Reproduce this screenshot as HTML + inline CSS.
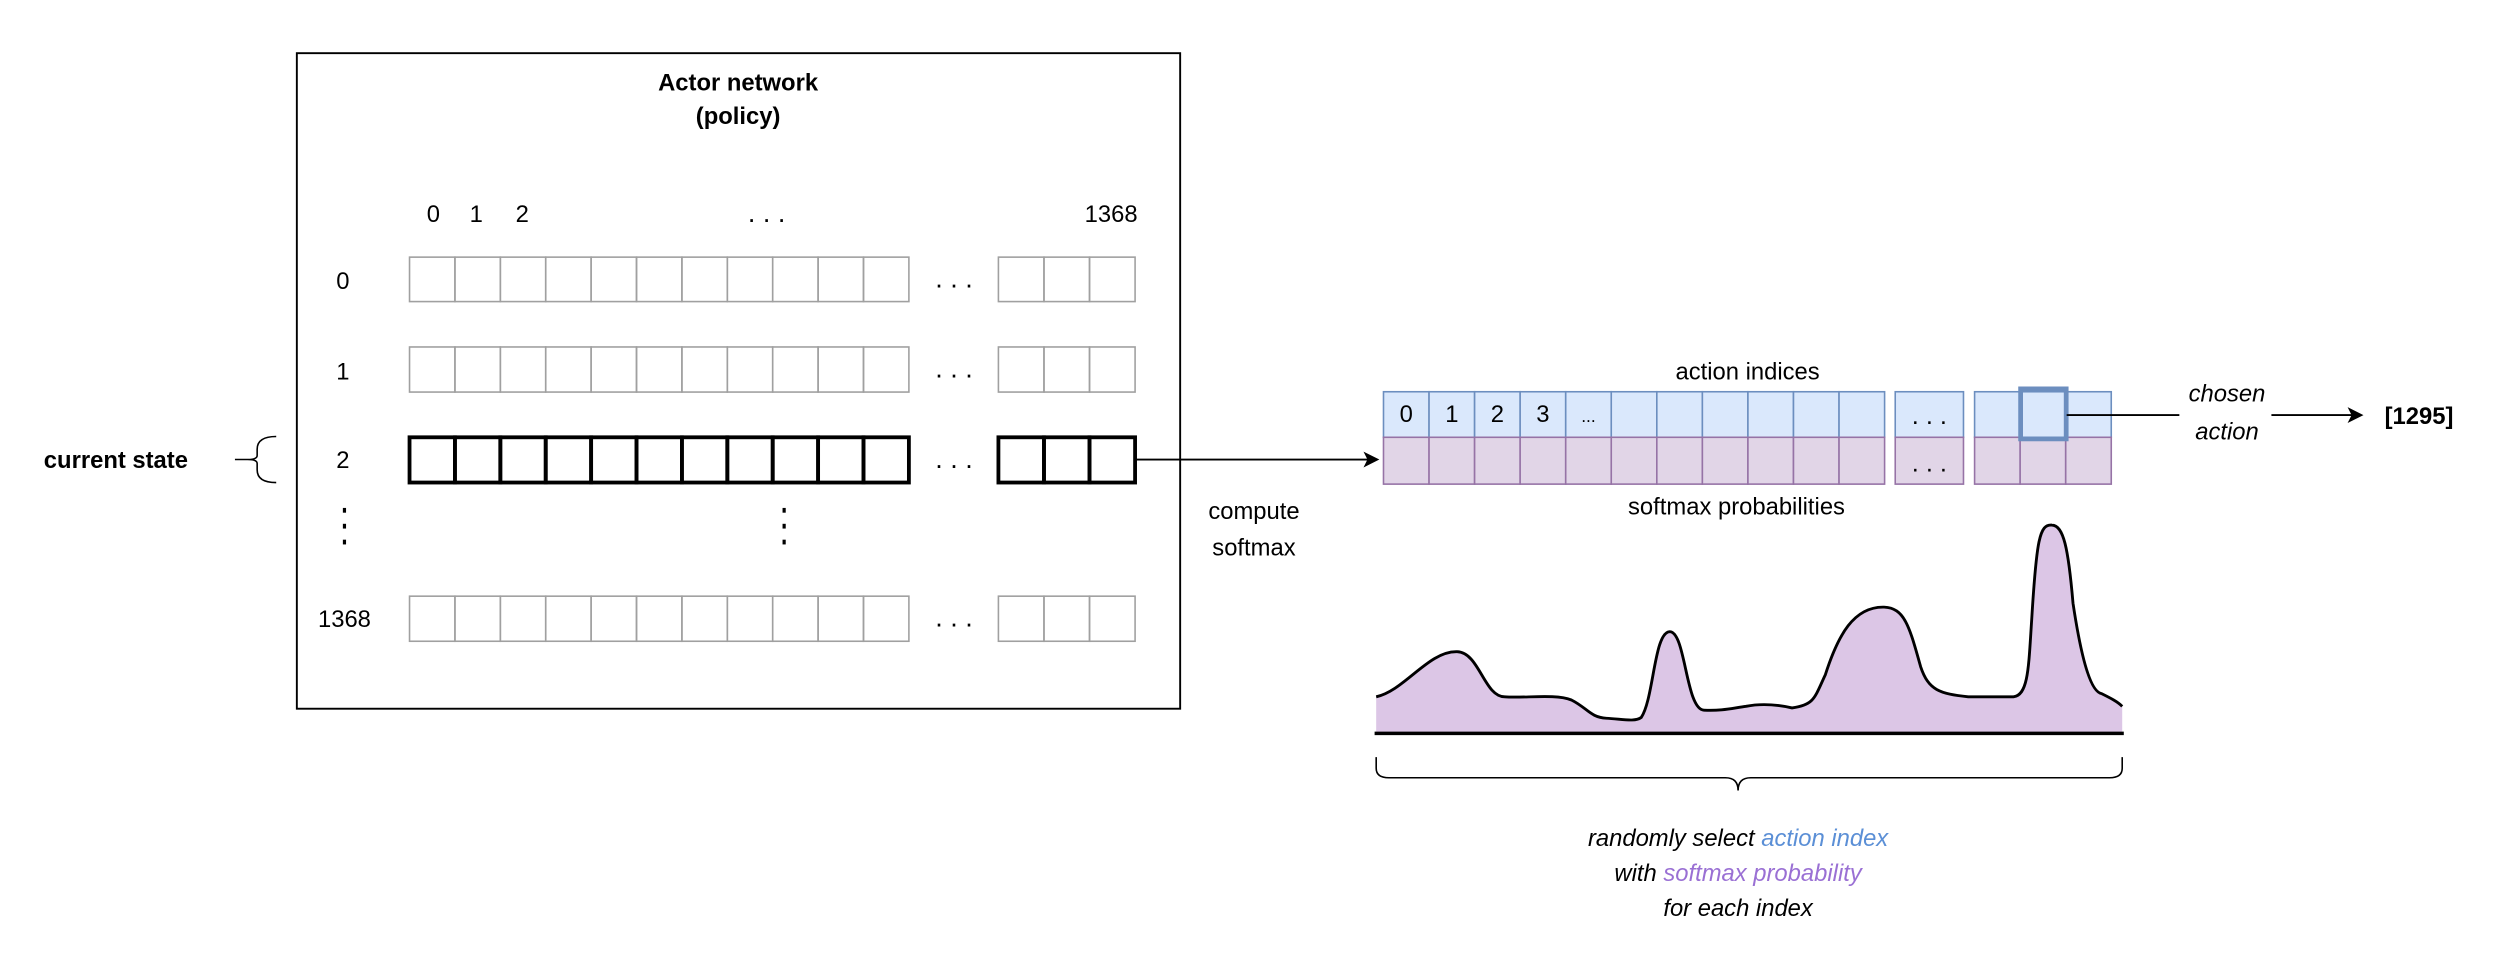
<!DOCTYPE html>
<html><head><meta charset="utf-8"><style>
html,body{margin:0;padding:0;background:#fff;}
svg{display:block;}
text{font-family:"Liberation Sans",Arial,sans-serif;}
</style></head><body>
<svg width="2500" height="973" viewBox="0 0 1575 613" xmlns="http://www.w3.org/2000/svg">
<rect x="0" y="0" width="1575" height="613" fill="#fff"/>
<rect x="187" y="33.5" width="556.5" height="413" fill="none" stroke="#000" stroke-width="1.2"/>
<text x="465" y="57" font-size="15" font-weight="bold" text-anchor="middle">Actor network</text>
<text x="465" y="78" font-size="15" font-weight="bold" text-anchor="middle">(policy)</text>
<g font-size="15" text-anchor="middle">
<text x="273" y="140">0</text><text x="300" y="140">1</text><text x="329" y="140">2</text>
<text x="483" y="140" font-size="17">. . .</text><text x="700" y="140">1368</text>
<text x="216" y="182">0</text><text x="216" y="239">1</text><text x="216" y="295">2</text>
<text x="217" y="395">1368</text>
</g>
<script>
(function(){
var ns="http://www.w3.org/2000/svg",svg=document.currentScript.parentNode;
function r(x,y,w,h,s,sw,f){var e=document.createElementNS(ns,"rect");e.setAttribute("x",x);e.setAttribute("y",y);e.setAttribute("width",w);e.setAttribute("height",h);e.setAttribute("stroke",s);e.setAttribute("stroke-width",sw);e.setAttribute("fill",f||"none");svg.appendChild(e);}
function t(x,y,s,fs){var e=document.createElementNS(ns,"text");e.setAttribute("x",x);e.setAttribute("y",y);e.setAttribute("font-size",fs||16);e.setAttribute("text-anchor","middle");e.textContent=s;svg.appendChild(e);}
var cw=28.6;
var rows=[[162,28,"#a0a0a0",1],[218.6,28.4,"#a0a0a0",1],[275.5,28.5,"#000",2.4],[375.6,28.4,"#a0a0a0",1]];
rows.forEach(function(R){
for(var i=0;i<11;i++)r(258+i*cw,R[0],cw,R[1],R[2],R[3]);
for(var j=0;j<3;j++)r(629+j*28.7,R[0],28.7,R[1],R[2],R[3]);
t(601,R[0]+R[1]/2+5,". . .",17);
});
var bw=28.7;
for(var i=0;i<11;i++){r(871.6+i*bw,246.8,bw,28.7,"#6c8ebf",1,"#dae8fc");r(871.6+i*bw,275.5,bw,29.5,"#9673a6",1,"#e1d5e7");}
r(1194,246.8,43,28.7,"#6c8ebf",1,"#dae8fc");r(1194,275.5,43,29.5,"#9673a6",1,"#e1d5e7");
for(var j=0;j<3;j++){r(1244+j*bw,246.8,bw,28.7,"#6c8ebf",1,"#dae8fc");r(1244+j*bw,275.5,bw,29.5,"#9673a6",1,"#e1d5e7");}
r(1273,245,28.7,31.5,"#6c8ebf",3,"none");
t(1215.5,267,". . .",16);t(1215.5,297,". . .",16);
var lab=["0","1","2","3"];for(var k=0;k<4;k++)t(871.6+bw*k+bw/2,266,lab[k],15);
t(871.6+bw*4+bw/2,266,"...",11);
})();
</script>
<g fill="#000">
<rect x="216" y="320" width="2" height="3"/><rect x="216" y="330" width="2" height="3"/><rect x="216" y="340" width="2" height="3"/>
<rect x="493" y="320" width="2" height="3"/><rect x="493" y="330" width="2" height="3"/><rect x="493" y="340" width="2" height="3"/>
</g>
<text x="73" y="295" font-size="15" font-weight="bold" text-anchor="middle">current state</text>
<path d="M174,275 Q162,275 162,283 L162,287 Q162,289.5 156,289.5 Q162,289.5 162,292 L162,296 Q162,304 174,304 M148,289.5 L156,289.5" fill="none" stroke="#000" stroke-width="1"/>
<path d="M715,289.5 L862,289.5" stroke="#000" stroke-width="1.2"/>
<path d="M869,289.5 L859,284.5 L861.5,289.5 L859,294.5 Z" fill="#000"/>
<text x="790" y="327" font-size="15" text-anchor="middle">compute</text>
<text x="790" y="350" font-size="15" text-anchor="middle">softmax</text>
<text x="1101" y="239" font-size="15" text-anchor="middle">action indices</text>
<text x="1094" y="324" font-size="15" text-anchor="middle">softmax probabilities</text>
<path d="M1302,261.5 L1373,261.5" stroke="#000" stroke-width="1.2"/>
<text x="1403" y="253" font-size="15" font-style="italic" text-anchor="middle">chosen</text>
<text x="1403" y="277" font-size="15" font-style="italic" text-anchor="middle">action</text>
<path d="M1431,261.5 L1482,261.5" stroke="#000" stroke-width="1.2"/>
<path d="M1489,261.5 L1479,256.5 L1481.5,261.5 L1479,266.5 Z" fill="#000"/>
<text x="1524" y="267" font-size="15" font-weight="bold" text-anchor="middle">[1295]</text>
<path d="M867,462 L867,439 C885,435 900,410 918,410.6 C932,411 935,439 948,439 C960,440 980,437 990,441 C1000,446 1002,452 1012,452.5 C1022,453 1030,455 1034,452 C1042,440 1042,398 1052,398 C1062,398 1062,447 1073.5,447.4 C1085,448 1092,446 1100,445 C1110,443 1120,444 1129,446 C1143,444 1143,440 1150,425 C1158,400 1168,382 1187,382.5 C1200,383 1203,395 1210,420 C1215,435 1222,437 1240,439 L1268.5,439 C1278,438 1278,420 1280,390 C1283,340 1285,330 1292.7,330.8 C1300,331 1303,345 1306,380 C1312,420 1318,436 1324,437 C1330,440 1334,442 1337,445 L1337,462 Z" fill="#dcc6e6" stroke="none"/>
<path d="M867,439 C885,435 900,410 918,410.6 C932,411 935,439 948,439 C960,440 980,437 990,441 C1000,446 1002,452 1012,452.5 C1022,453 1030,455 1034,452 C1042,440 1042,398 1052,398 C1062,398 1062,447 1073.5,447.4 C1085,448 1092,446 1100,445 C1110,443 1120,444 1129,446 C1143,444 1143,440 1150,425 C1158,400 1168,382 1187,382.5 C1200,383 1203,395 1210,420 C1215,435 1222,437 1240,439 L1268.5,439 C1278,438 1278,420 1280,390 C1283,340 1285,330 1292.7,330.8 C1300,331 1303,345 1306,380 C1312,420 1318,436 1324,437 C1330,440 1334,442 1337,445" fill="none" stroke="#000" stroke-width="1.8"/>
<path d="M866,462 L1338,462" stroke="#000" stroke-width="2.2"/>
<path d="M867,477 L867,484 Q867,490 875,490 L1087,490 Q1095,490 1095,498 Q1095,490 1103,490 L1329,490 Q1337,490 1337,484 L1337,477" fill="none" stroke="#000" stroke-width="1"/>
<g font-size="15" font-style="italic" text-anchor="middle">
<text x="1095" y="533">randomly select <tspan fill="#5b8fd6">action index</tspan></text>
<text x="1095" y="555">with <tspan fill="#9a70d4">softmax probability</tspan></text>
<text x="1095" y="577">for each index</text>
</g>
</svg>
</body></html>
